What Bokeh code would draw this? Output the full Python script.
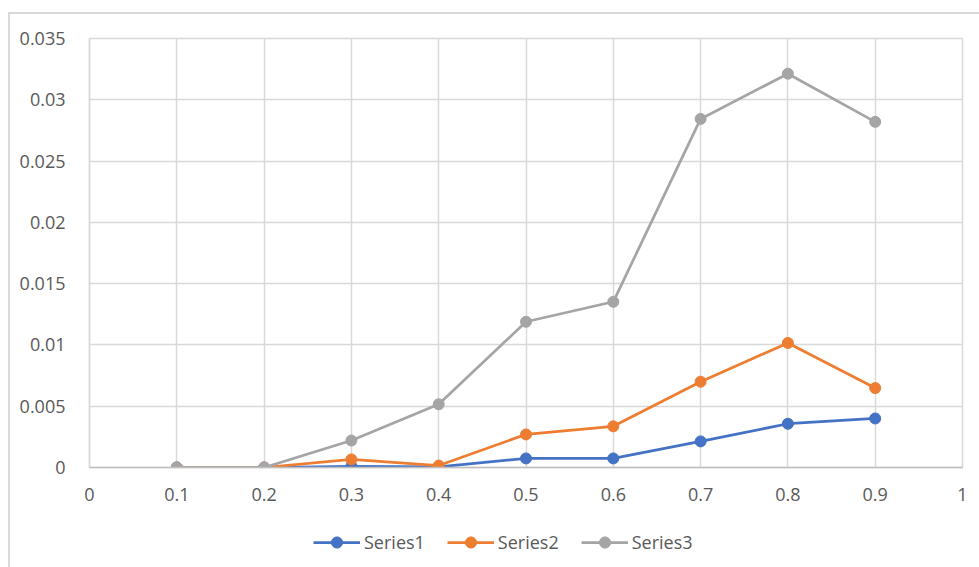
from bokeh.plotting import figure
from bokeh.layouts import column
from bokeh.models import FixedTicker, Legend, LegendItem
from bokeh.embed import file_html
from bokeh.resources import INLINE

# x positions and series values
x_vals = [0.1, 0.2, 0.3, 0.4, 0.5, 0.6, 0.7, 0.8, 0.9]
series1 = [0.0, 0.0, 0.0001, 0.00005, 0.00074, 0.00074, 0.00213, 0.00357, 0.0040]
series2 = [0.0, 0.0, 0.00066, 0.00016, 0.0027, 0.00336, 0.0070, 0.01016, 0.00648]
series3 = [0.0, 0.0, 0.0022, 0.00516, 0.01189, 0.01352, 0.02844, 0.03213, 0.0282]

series_names = ["Series1", "Series2", "Series3"]
series_colors = ["#4472C4", "#ED7D31", "#A5A5A5"]

x_ticks = [0, 0.1, 0.2, 0.3, 0.4, 0.5, 0.6, 0.7, 0.8, 0.9, 1.0]
x_tick_labels = ["0", "0.1", "0.2", "0.3", "0.4", "0.5", "0.6", "0.7", "0.8", "0.9", "1"]
y_ticks = [0, 0.005, 0.01, 0.015, 0.02, 0.025, 0.03, 0.035]
y_tick_labels = ["0", "0.005", "0.01", "0.015", "0.02", "0.025", "0.03", "0.035"]

FONT = "Open Sans"
TEXT_COLOR = "#595959"
GRID_COLOR = "#D9D9D9"
LINE_W = 2.75
MARKER = 11

# main chart
p = figure(frame_width=871, frame_height=427, x_range=(0, 1), y_range=(0, 0.035),
           output_backend="svg", toolbar_location=None,
           min_border_left=79, min_border_right=21,
           min_border_top=24, min_border_bottom=60)
p.margin = (12, 0, 0, 8)
p.styles = {"border-left": "2px solid #D9D9D9", "border-top": "2px solid #D9D9D9"}

p.background_fill_color = "white"
p.border_fill_color = "white"
p.outline_line_color = GRID_COLOR
p.outline_line_width = 1.5

p.xaxis.ticker = FixedTicker(ticks=x_ticks)
p.yaxis.ticker = FixedTicker(ticks=y_ticks)
p.xaxis.major_label_overrides = {t: l for t, l in zip(x_ticks, x_tick_labels)}
p.yaxis.major_label_overrides = {t: l for t, l in zip(y_ticks, y_tick_labels)}

for ax in (p.xaxis, p.yaxis):
    ax.major_tick_line_color = None
    ax.minor_tick_line_color = None
    ax.major_label_text_font = FONT
    ax.major_label_text_font_size = "18px"
    ax.major_label_text_color = TEXT_COLOR
p.xaxis.axis_line_color = "#BFBFBF"
p.xaxis.axis_line_width = 1.5
p.yaxis.axis_line_color = GRID_COLOR
p.yaxis.axis_line_width = 1.5
p.xaxis.major_label_standoff = 14
p.yaxis.major_label_standoff = 18

p.xgrid.grid_line_color = GRID_COLOR
p.ygrid.grid_line_color = GRID_COLOR
p.xgrid.grid_line_width = 1.5
p.ygrid.grid_line_width = 1.5

for ys, color in zip([series1, series2, series3], series_colors):
    p.line(x_vals, ys, line_color=color, line_width=LINE_W)
    p.scatter(x_vals, ys, size=MARKER, fill_color=color, line_color=color)

# legend strip underneath the chart (its frame lines up with the chart's frame)
leg = figure(width=971, height=42, x_range=(0, 1), y_range=(0, 1),
             output_backend="svg", toolbar_location=None,
             x_axis_location=None, y_axis_location=None,
             min_border=0, outline_line_color=None)
leg.margin = (0, 0, 0, 8)
leg.styles = {"border-left": "2px solid #D9D9D9"}
leg.xgrid.visible = False
leg.ygrid.visible = False
leg.background_fill_color = "white"
leg.border_fill_color = "white"

items = []
for name, ys, color in zip(series_names, [series1, series2, series3], series_colors):
    ln = leg.line(x_vals, ys, line_color=color, line_width=LINE_W, visible=False)
    sc = leg.scatter(x_vals, ys, size=MARKER, fill_color=color, line_color=color,
                     visible=False)
    items.append(LegendItem(label=name, renderers=[ln, sc]))

legend = Legend(items=items, orientation="horizontal", location=(224, 11),
                label_text_font=FONT, label_text_font_size="18px",
                label_text_color=TEXT_COLOR, glyph_width=47, glyph_height=28,
                spacing=22, label_standoff=4, border_line_color=None,
                background_fill_alpha=0, margin=0, padding=0,
                click_policy="none")
leg.add_layout(legend, "center")

layout = column(p, leg, spacing=0)

open("out.html", "w").write(file_html(layout, INLINE))
